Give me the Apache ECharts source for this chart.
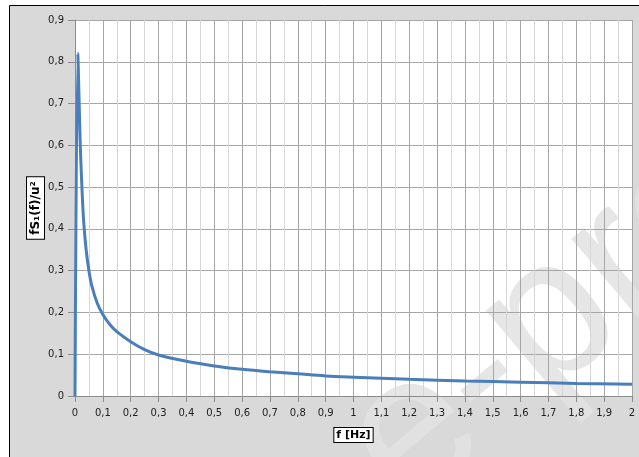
<!DOCTYPE html>
<html>
<head>
<meta charset="utf-8">
<script src="https://cdn.jsdelivr.net/npm/echarts@6/dist/echarts.min.js"></script>
<style>
  html, body { margin: 0; padding: 0; background: #ffffff; }
  #chart { width: 639px; height: 457px; }
</style>
</head>
<body>
<div id="chart"></div>
<script>
// Frequency (Hz) and normalised spectrum fS1(f)/u²
const freqHz = [0, 0.01, 0.015, 0.02, 0.03, 0.04, 0.05, 0.06, 0.08, 0.1, 0.125, 0.15, 0.2, 0.25, 0.3, 0.4, 0.5, 0.6, 0.7, 0.8, 0.9, 1.0, 1.2, 1.4, 1.6, 1.8, 2.0];
const spectrum = [0, 0.82, 0.70, 0.58, 0.43, 0.35, 0.30, 0.265, 0.222, 0.195, 0.171, 0.154, 0.130, 0.111, 0.098, 0.083, 0.072, 0.064, 0.058, 0.053, 0.048, 0.045, 0.040, 0.036, 0.033, 0.030, 0.028];

const xTicks = { min: 0, max: 2, step: 0.1 };
const yTicks = { min: 0, max: 0.9, step: 0.1 };

const xName = 'f [Hz]';
const yName = 'fS\u2081(f)/u\u00b2';
const watermark = 'e-pro';

const fmt = v => String(+v.toFixed(2)).replace('.', ',');
const fontFamily = '"DejaVu Sans", Verdana, sans-serif';

const chart = echarts.init(document.getElementById('chart'), null, { renderer: 'canvas' });

chart.setOption({
  animation: false,
  backgroundColor: '#ffffff',
  textStyle: { fontFamily: fontFamily },
  graphic: [
    {
      // chart area frame
      type: 'rect', z: 0, silent: true,
      shape: { x: 9.5, y: 5.5, width: 700, height: 500 },
      style: { fill: '#d9d9d9', stroke: '#000000', lineWidth: 1 }
    },
    {
      // faint diagonal watermark
      type: 'text', z: 2, silent: true,
      x: 372, y: 472, rotation: 40 * Math.PI / 180,
      style: {
        text: watermark,
        font: '200px "Liberation Sans"',
        fill: 'rgba(226,226,226,0.85)',
        align: 'left',
        verticalAlign: 'middle'
      }
    }
  ],
  grid: {
    show: true, z: 1,
    left: 75, right: 7, top: 20, bottom: 61,
    backgroundColor: '#ffffff',
    borderWidth: 0
  },
  xAxis: {
    type: 'value', z: 3,
    min: xTicks.min, max: xTicks.max, interval: xTicks.step,
    name: xName, nameLocation: 'middle', nameGap: 32, nameMoveOverlap: false,
    nameTextStyle: {
      color: '#000', fontSize: 11, fontWeight: 'bold', fontFamily: fontFamily,
      backgroundColor: '#ffffff', borderColor: '#000000', borderWidth: 1,
      padding: [2, 2, 1, 2]
    },
    axisLine: { show: true, onZero: false, lineStyle: { color: '#8c8c8c', width: 1 } },
    axisTick: { show: true, length: 6, lineStyle: { color: '#8c8c8c' } },
    axisLabel: { color: '#222', fontSize: 10, margin: 12, formatter: fmt },
    splitLine: { show: true, lineStyle: { color: '#a6a6a6', width: 1 } },
    minorTick: { show: false, splitNumber: 2 },
    minorSplitLine: { show: true, lineStyle: { color: '#d6d6d6', width: 1 } }
  },
  yAxis: {
    type: 'value', z: 3,
    min: yTicks.min, max: yTicks.max, interval: yTicks.step,
    name: yName, nameLocation: 'middle', nameGap: 31, nameRotate: 90, nameMoveOverlap: false,
    nameTextStyle: {
      color: '#000', fontSize: 12, fontWeight: 'bold', fontFamily: fontFamily,
      backgroundColor: '#ffffff', borderColor: '#000000', borderWidth: 1,
      padding: [3, 4, 2, 4]
    },
    axisLine: { show: true, lineStyle: { color: '#8c8c8c', width: 1 } },
    axisTick: { show: true, length: 7, lineStyle: { color: '#8c8c8c' } },
    axisLabel: { color: '#222', fontSize: 10, margin: 11, formatter: fmt },
    splitLine: { show: true, lineStyle: { color: '#a6a6a6', width: 1 } }
  },
  series: [{
    type: 'line', z: 5,
    data: freqHz.map((f, i) => [f, spectrum[i]]),
    showSymbol: false,
    smooth: 0.35,
    lineStyle: { color: '#4a7ebb', width: 3 },
    itemStyle: { color: '#4a7ebb' }
  }]
});
</script>
</body>
</html>
